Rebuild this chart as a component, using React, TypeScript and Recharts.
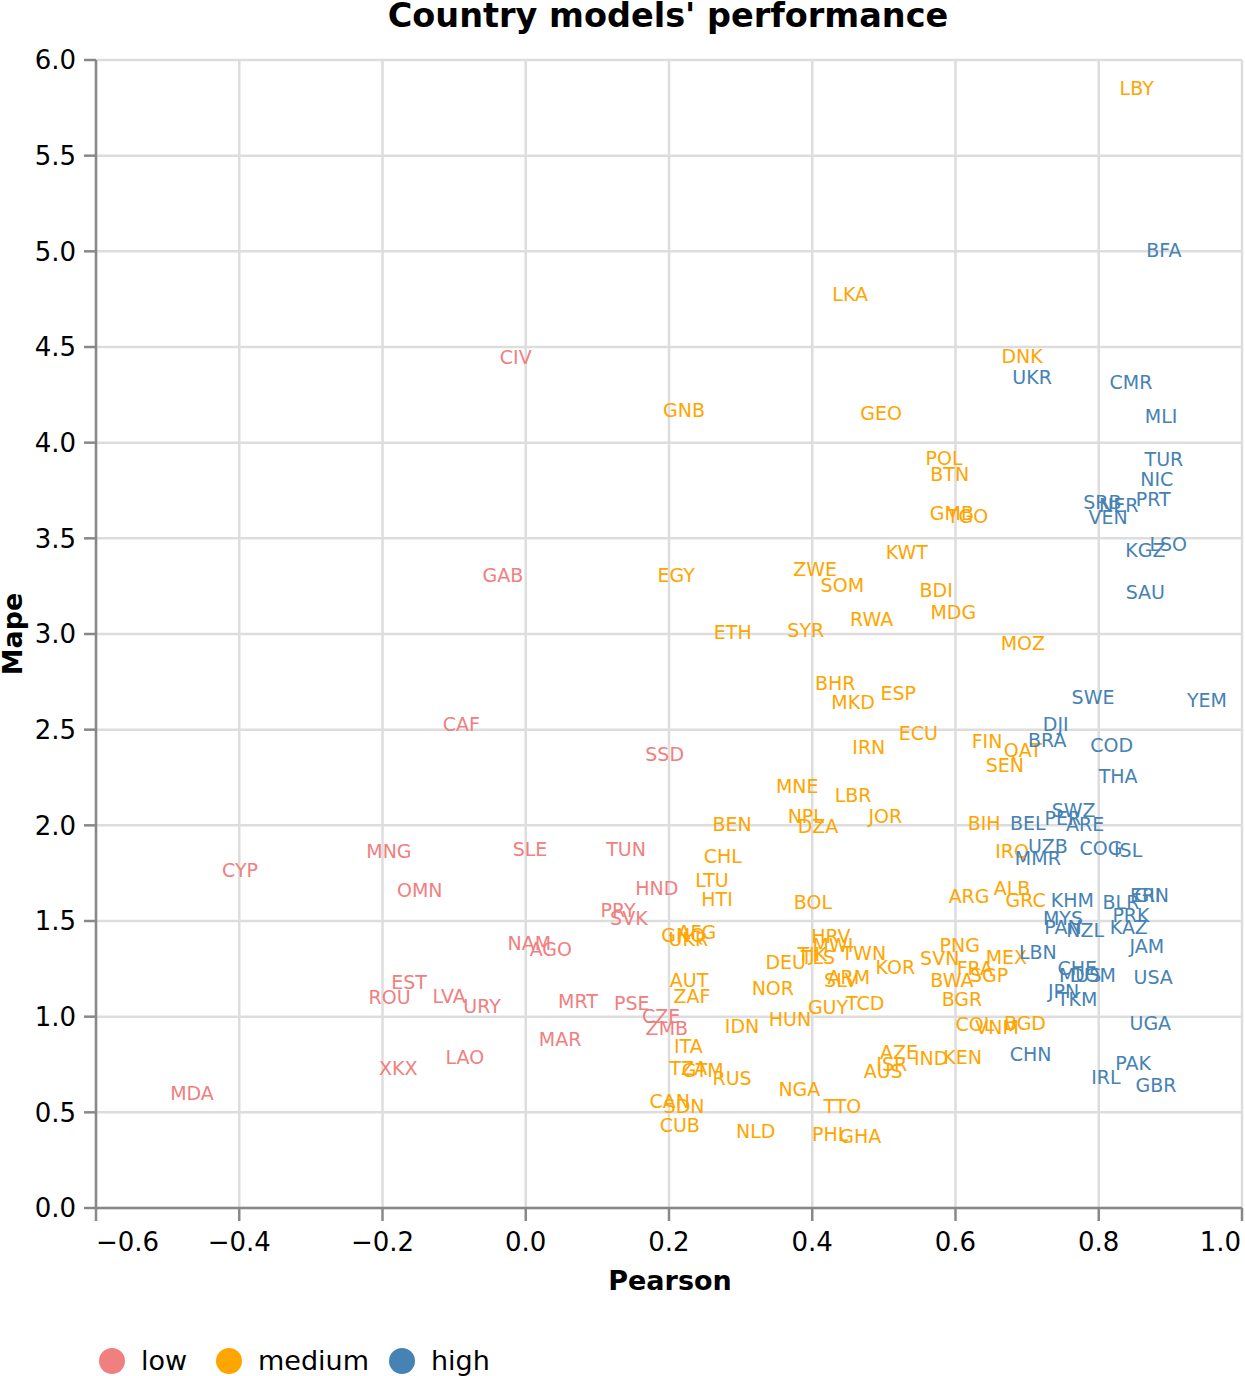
import { ScatterChart, Scatter, XAxis, YAxis, CartesianGrid } from 'recharts';

// [country, pearson, mape]
const lowRows: [string, number, number][] = [
  ['MDA', -0.466, 0.601], ['XKX', -0.178, 0.732], ['LAO', -0.085, 0.789], ['ROU', -0.19, 1.103],
  ['EST', -0.163, 1.181], ['LVA', -0.107, 1.108], ['URY', -0.061, 1.056], ['MRT', 0.073, 1.082],
  ['PSE', 0.148, 1.071], ['CZE', 0.189, 1.003], ['ZMB', 0.197, 0.941], ['MAR', 0.048, 0.883],
  ['NAM', 0.005, 1.385], ['AGO', 0.035, 1.354], ['PRY', 0.129, 1.558], ['SVK', 0.144, 1.516],
  ['HND', 0.183, 1.672], ['TUN', 0.14, 1.876], ['SLE', 0.006, 1.876], ['MNG', -0.191, 1.866],
  ['OMN', -0.148, 1.662], ['CYP', -0.399, 1.767], ['CAF', -0.09, 2.53], ['SSD', 0.194, 2.373],
  ['GAB', -0.032, 3.308], ['CIV', -0.014, 4.448],
];

const mediumRows: [string, number, number][] = [
  ['LBY', 0.853, 5.854], ['LKA', 0.453, 4.777], ['DNK', 0.693, 4.453], ['GNB', 0.221, 4.171],
  ['GEO', 0.496, 4.155], ['POL', 0.584, 3.92], ['BTN', 0.592, 3.836], ['GMB', 0.595, 3.632],
  ['TGO', 0.617, 3.617], ['KWT', 0.532, 3.429], ['ZWE', 0.404, 3.34], ['SOM', 0.442, 3.256],
  ['EGY', 0.21, 3.308], ['BDI', 0.573, 3.23], ['MDG', 0.597, 3.115], ['RWA', 0.483, 3.078],
  ['SYR', 0.391, 3.021], ['ETH', 0.289, 3.011], ['MOZ', 0.694, 2.953], ['BHR', 0.432, 2.744],
  ['ESP', 0.52, 2.692], ['MKD', 0.457, 2.645], ['ECU', 0.548, 2.483], ['IRN', 0.479, 2.409],
  ['FIN', 0.644, 2.441], ['QAT', 0.694, 2.394], ['SEN', 0.669, 2.315], ['MNE', 0.379, 2.206],
  ['LBR', 0.457, 2.159], ['NPL', 0.391, 2.049], ['DZA', 0.408, 1.997], ['JOR', 0.502, 2.049],
  ['BEN', 0.288, 2.007], ['BIH', 0.64, 2.012], ['IRQ', 0.679, 1.866], ['CHL', 0.275, 1.84],
  ['LTU', 0.26, 1.714], ['HTI', 0.267, 1.615], ['BOL', 0.401, 1.599], ['ARG', 0.619, 1.631],
  ['ALB', 0.679, 1.672], ['GRC', 0.698, 1.61], ['GNQ', 0.22, 1.427], ['AFG', 0.239, 1.443],
  ['UKR', 0.227, 1.406], ['AUT', 0.228, 1.192], ['ZAF', 0.232, 1.108], ['IDN', 0.302, 0.951],
  ['HUN', 0.369, 0.988], ['NOR', 0.345, 1.15], ['DEU', 0.363, 1.286], ['TLS', 0.408, 1.312],
  ['TJK', 0.4, 1.328], ['HRV', 0.426, 1.422], ['MWI', 0.429, 1.375], ['TWN', 0.472, 1.333],
  ['KOR', 0.516, 1.26], ['SLV', 0.44, 1.192], ['ARM', 0.451, 1.207], ['GUY', 0.422, 1.051],
  ['TCD', 0.474, 1.071], ['PNG', 0.606, 1.375], ['SVN', 0.578, 1.307], ['FRA', 0.627, 1.254],
  ['MEX', 0.671, 1.312], ['SGP', 0.647, 1.218], ['BWA', 0.595, 1.192], ['BGR', 0.609, 1.092],
  ['COL', 0.627, 0.962], ['VNM', 0.658, 0.946], ['BGD', 0.697, 0.967], ['AZE', 0.521, 0.815],
  ['ISR', 0.511, 0.753], ['AUS', 0.499, 0.716], ['IND', 0.566, 0.784], ['KEN', 0.61, 0.789],
  ['ITA', 0.227, 0.847], ['TZA', 0.227, 0.732], ['GTM', 0.247, 0.721], ['RUS', 0.288, 0.679],
  ['CAN', 0.201, 0.559], ['SDN', 0.221, 0.533], ['CUB', 0.215, 0.434], ['NLD', 0.321, 0.402],
  ['NGA', 0.382, 0.622], ['TTO', 0.442, 0.533], ['PHL', 0.425, 0.387], ['GHA', 0.467, 0.376],
];

const highRows: [string, number, number][] = [
  ['BFA', 0.891, 5.007], ['UKR', 0.707, 4.343], ['CMR', 0.845, 4.317], ['MLI', 0.887, 4.139],
  ['TUR', 0.891, 3.915], ['NIC', 0.881, 3.81], ['PRT', 0.876, 3.706], ['SRB', 0.805, 3.69],
  ['NER', 0.828, 3.674], ['VEN', 0.813, 3.612], ['LSO', 0.897, 3.47], ['KGZ', 0.865, 3.439],
  ['SAU', 0.865, 3.22], ['SWE', 0.792, 2.671], ['YEM', 0.951, 2.655], ['DJI', 0.74, 2.53],
  ['BRA', 0.728, 2.446], ['COD', 0.818, 2.42], ['THA', 0.827, 2.258], ['SWZ', 0.765, 2.08],
  ['PER', 0.75, 2.038], ['ARE', 0.781, 2.007], ['BEL', 0.701, 2.012], ['UZB', 0.729, 1.892],
  ['MMR', 0.715, 1.829], ['COG', 0.803, 1.882], ['ISL', 0.841, 1.871], ['KHM', 0.763, 1.61],
  ['BLR', 0.831, 1.599], ['ERI', 0.865, 1.636], ['GIN', 0.874, 1.636], ['PRK', 0.845, 1.531],
  ['KAZ', 0.842, 1.469], ['MYS', 0.75, 1.516], ['PAN', 0.75, 1.469], ['NZL', 0.781, 1.453],
  ['JAM', 0.867, 1.369], ['LBN', 0.715, 1.338], ['CHE', 0.77, 1.254], ['MUS', 0.774, 1.218],
  ['DOM', 0.792, 1.218], ['USA', 0.876, 1.207], ['JPN', 0.751, 1.134], ['TKM', 0.77, 1.092],
  ['UGA', 0.872, 0.967], ['CHN', 0.705, 0.805], ['PAK', 0.848, 0.758], ['IRL', 0.81, 0.685],
  ['GBR', 0.88, 0.643],
];

const xTicks = [-0.6, -0.4, -0.2, 0, 0.2, 0.4, 0.6, 0.8, 1.0];
const yTicks = [0, 0.5, 1, 1.5, 2, 2.5, 3, 3.5, 4, 4.5, 5, 5.5, 6];

const groups = [
  { name: 'low', color: '#f08080', rows: lowRows },
  { name: 'medium', color: '#ffa500', rows: mediumRows },
  { name: 'high', color: '#4682b4', rows: highRows },
];

const FONT = '"DejaVu Sans", sans-serif';
const fmt = (v: number) => (v < 0 ? `\u2212${Math.abs(v).toFixed(1)}` : v.toFixed(1));

const XTick = (props: any) => {
  const { x, y, payload, index } = props;
  const anchor = index === 0 ? 'start' : index === xTicks.length - 1 ? 'end' : 'middle';
  return (
    <text x={x} y={y} dy="0.71em" textAnchor={anchor} fontSize={26} fontFamily={FONT} fill="#000">
      {fmt(payload.value)}
    </text>
  );
};

const YTick = (props: any) => {
  const { x, y, payload } = props;
  return (
    <text x={x} y={y} dy="0.36em" textAnchor="end" fontSize={26} fontFamily={FONT} fill="#000">
      {fmt(payload.value)}
    </text>
  );
};

const labelShape = (color: string) => (props: any) => (
  <text
    x={props.cx}
    y={props.cy}
    dy="0.36em"
    textAnchor="middle"
    fontSize={19}
    fontFamily={FONT}
    fill={color}
  >
    {props.payload.code}
  </text>
);

export default function App() {
  return (
    <div style={{ position: 'absolute', left: 0, top: 0, width: 1245, height: 1376, background: '#fff' }}>
      <ScatterChart width={1245} height={1376} margin={{ top: 60, right: 3, bottom: 108, left: 0 }}>
        <CartesianGrid stroke="#dddddd" strokeWidth={2.5} />
        <XAxis
          type="number"
          dataKey="pearson"
          domain={[-0.6, 1.0]}
          ticks={xTicks}
          allowDataOverflow
          height={60}
          tickSize={13}
          tickMargin={12}
          stroke="#888"
          strokeWidth={2.5}
          tick={<XTick />}
        />
        <YAxis
          type="number"
          dataKey="mape"
          domain={[0, 6]}
          ticks={yTicks}
          width={96}
          tickSize={12}
          tickMargin={8}
          stroke="#888"
          strokeWidth={2.5}
          tick={<YTick />}
        />
        {groups.map((g) => (
          <Scatter
            key={g.name}
            name={g.name}
            data={g.rows.map(([code, pearson, mape]) => ({ code, pearson, mape }))}
            shape={labelShape(g.color)}
            isAnimationActive={false}
          />
        ))}
      </ScatterChart>
      <svg
        width={1245}
        height={1376}
        style={{ position: 'absolute', left: 0, top: 0, pointerEvents: 'none' }}
        fontFamily={FONT}
      >
        <text x={668} y={27} textAnchor="middle" fontSize={33.5} fontWeight="bold">
          Country models' performance
        </text>
        <text x={670} y={1290} textAnchor="middle" fontSize={27} fontWeight="bold">
          Pearson
        </text>
        <text x={22} y={634} textAnchor="middle" fontSize={27} fontWeight="bold" transform="rotate(-90 22 634)">
          Mape
        </text>
        {groups.map((g, i) => {
          const cx = [112, 229, 402][i];
          return (
            <g key={g.name}>
              <circle cx={cx} cy={1361} r={13} fill={g.color} />
              <text x={cx + 29} y={1370} fontSize={27} fill="#000">
                {g.name}
              </text>
            </g>
          );
        })}
      </svg>
    </div>
  );
}
